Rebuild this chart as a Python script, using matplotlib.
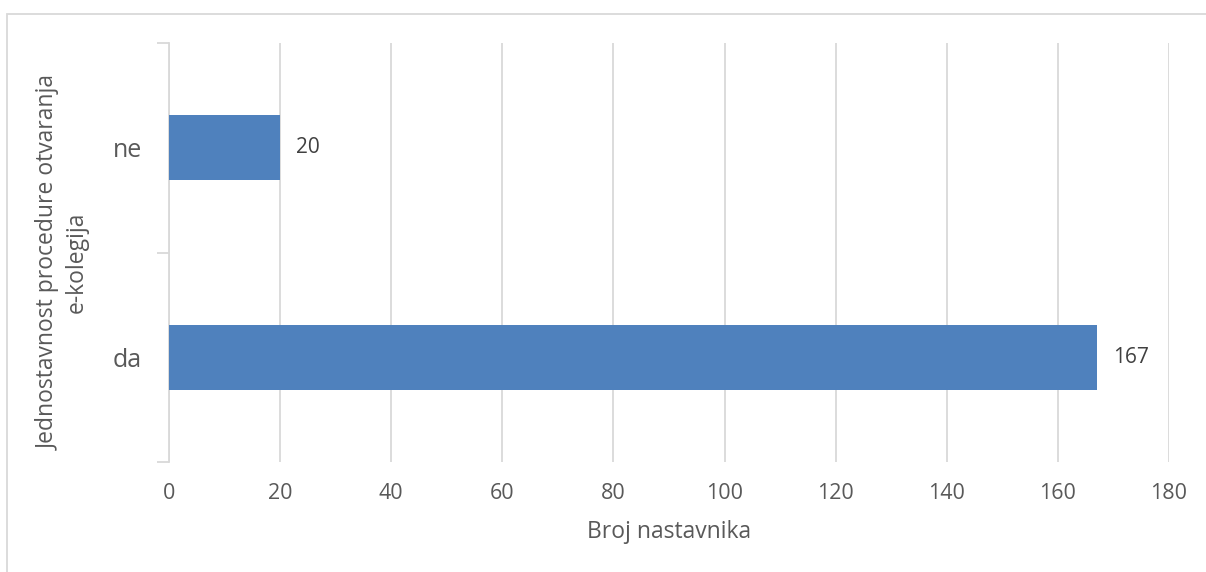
import matplotlib.pyplot as plt
from matplotlib.patches import Rectangle

categories = ["da", "ne"]
values = [167, 20]
xticks = [0, 20, 40, 60, 80, 100, 120, 140, 160, 180]

plt.rcParams['font.family'] = ['Open Sans', 'DejaVu Sans']
text_col = '#595959'
grid_col = '#d9d9d9'

fig = plt.figure(figsize=(12.06, 5.72), dpi=100)
fig.patches.append(Rectangle((7 / 1206, -0.1), 1.2, 1 - 14 / 572 + 0.1,
                             transform=fig.transFigure, fill=False,
                             edgecolor=grid_col, linewidth=1.3))

ax = fig.add_axes([169 / 1206, 1 - 462 / 572, 1000 / 1206, 419 / 572])
ypos = range(len(categories))
bars = ax.barh(ypos, values, height=0.31, color='#4f81bd', zorder=3)
for y, v in zip(ypos, values):
    ax.text(v + 2.9, y, str(v), va='center', ha='left', fontsize=15, color='#404040')

ax.set_xlim(0, 180)
ax.set_ylim(-0.5, 1.5)
ax.set_xticks(xticks)
ax.set_xticklabels([str(t) for t in xticks], fontsize=15.5, color=text_col)
ax.tick_params(axis='x', length=0, pad=15)

ax.set_yticks([-0.5, 0.5, 1.5])
ax.set_yticklabels([])
ax.set_yticks(list(ypos), minor=True)
ax.set_yticklabels(categories, minor=True, fontsize=18, color=text_col)
ax.tick_params(axis='y', which='major', length=9, color=grid_col, width=1.3)
ax.tick_params(axis='y', which='minor', length=0, pad=19.5)

ax.grid(axis='x', color=grid_col, linewidth=1.3, zorder=0)
for s in ['top', 'right', 'bottom']:
    ax.spines[s].set_visible(False)
ax.spines['left'].set_color(grid_col)
ax.spines['left'].set_linewidth(1.3)

ax.set_xlabel('Broj nastavnika', fontsize=16.5, color=text_col, labelpad=12)
fig.text(63 / 1206, 1 - 262 / 572, 'Jednostavnost procedure otvaranja\ne-kolegija',
         rotation=90, ha='center', va='center', multialignment='center',
         fontsize=16.5, color=text_col, linespacing=1.2)

fig.savefig('out.png', dpi=100)
